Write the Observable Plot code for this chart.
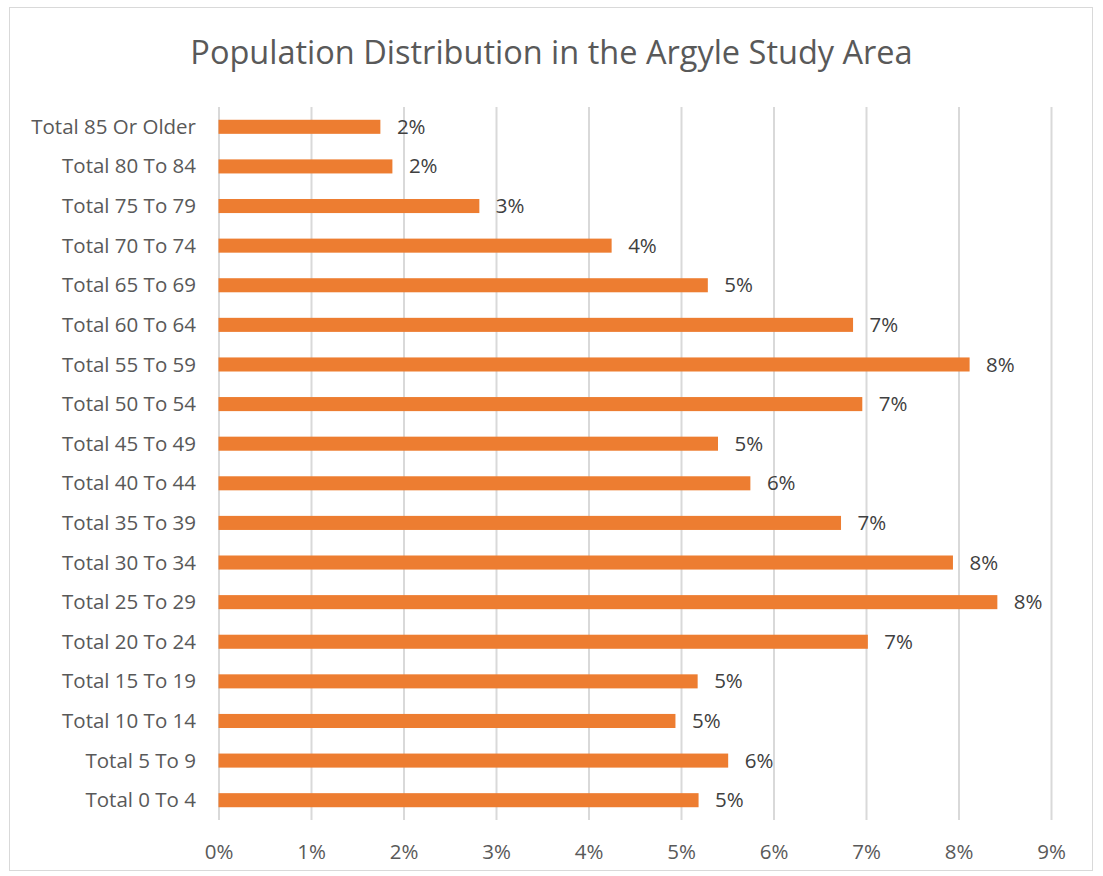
<!DOCTYPE html>
<html>
<head>
<meta charset="utf-8">
<script src="https://cdn.jsdelivr.net/npm/d3@7"></script>
<script src="https://cdn.jsdelivr.net/npm/@observablehq/plot@0.6"></script>
<style>
  body { margin: 0; background: #fff; }
  #wrap { position: relative; width: 1103px; height: 876px; overflow: hidden; font-family: "Open Sans", sans-serif; }
  #frame { position: absolute; left: 9px; top: 7px; width: 1084px; height: 864px; border: 1px solid #d9d9d9; box-sizing: border-box; }
  #title { position: absolute; left: 0; top: 29px; width: 1103px; text-align: center; font-size: 32.5px; line-height: 46px; color: #595959; }
  #chart { position: absolute; left: 0; top: 90px; }
</style>
</head>
<body>
<div id="wrap">
  <div id="frame"></div>
  <div id="title">Population Distribution in the Argyle Study Area</div>
  <div id="chart"></div>
</div>
<script>
const categories = [
  "Total 85 Or Older", "Total 80 To 84", "Total 75 To 79", "Total 70 To 74",
  "Total 65 To 69", "Total 60 To 64", "Total 55 To 59", "Total 50 To 54",
  "Total 45 To 49", "Total 40 To 44", "Total 35 To 39", "Total 30 To 34",
  "Total 25 To 29", "Total 20 To 24", "Total 15 To 19", "Total 10 To 14",
  "Total 5 To 9", "Total 0 To 4"
];
const shares = [
  0.0175, 0.0188, 0.0282, 0.0425,
  0.0529, 0.0686, 0.0812, 0.0696,
  0.0540, 0.0575, 0.0673, 0.0794,
  0.0842, 0.0702, 0.0518, 0.0494,
  0.0551, 0.0519
];
const xTicks = [0, 0.01, 0.02, 0.03, 0.04, 0.05, 0.06, 0.07, 0.08, 0.09];

const data = categories.map((c, i) => ({ category: c, value: shares[i] }));
const pct = d3.format(".0%");

const chart = Plot.plot({
  width: 1103,
  height: 786,
  marginTop: 17,
  marginBottom: 56,
  marginLeft: 218.5,
  marginRight: 52,
  style: { fontFamily: "Open Sans, sans-serif", fontSize: "20.5px", color: "#595959", background: "transparent" },
  x: { domain: [0, 0.09], ticks: xTicks, tickFormat: pct, tickSize: 0, tickPadding: 24, label: null },
  y: { domain: categories, paddingInner: 0.645, paddingOuter: 0.3225, round: false, tickSize: 0, tickPadding: 23, label: null },
  marks: [
    Plot.gridX(xTicks, { stroke: "#d9d9d9", strokeOpacity: 1, strokeWidth: 2 }),
    Plot.barX(data, { x: "value", y: "category", fill: "#ED7D31" }),
    Plot.text(data, { x: "value", y: "category", text: d => pct(d.value), textAnchor: "start", dx: 16, fill: "#404040", fontSize: 20.5 })
  ]
});
document.getElementById("chart").appendChild(chart);
</script>
</body>
</html>
